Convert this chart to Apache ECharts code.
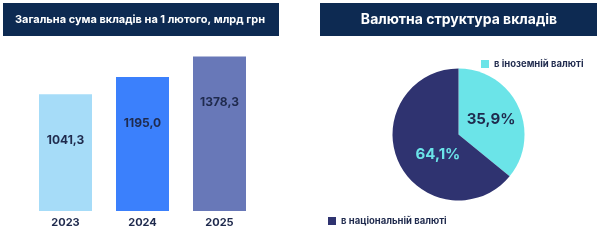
<!DOCTYPE html>
<html><head><meta charset="utf-8">
<script src="https://cdn.jsdelivr.net/npm/echarts@6/dist/echarts.min.js"></script>
<style>html,body{margin:0;padding:0;background:#fff}#c{width:600px;height:244px}</style>
</head><body><div id="c"></div>
<script>
const barTitle = 'Загальна сума вкладів на 1 лютого, млрд грн';
const pieTitle = 'Валютна структура вкладів';
const years = ['2023', '2024', '2025'];
const deposits = [1041.3, 1195.0, 1378.3];
const barColors = ['#a6dcf8', '#3b80fc', '#6878b8'];
const pieNames = ['в іноземній валюті', 'в національній валюті'];
const pieValues = [35.9, 64.1];
const pieColors = ['#6be4e8', '#2f3370'];
const pieLabelColors = ['#1f2a4d', '#6be4e8'];

const FONT = 'Inter';
const NAVY = '#1f2a4d';
const chart = echarts.init(document.getElementById('c'), null, {renderer: 'canvas'});
const fmt = v => v.toFixed(1).replace('.', ',');

chart.setOption({
  animation: false,
  textStyle: {fontFamily: FONT},
  graphic: [
    {type: 'rect', shape: {x: 3, y: 3, width: 276, height: 33}, style: {fill: '#0d2a52'}},
    {type: 'text', x: 140, y: 19.5, style: {text: barTitle, fill: '#fff', font: 'bold 11px ' + FONT, textAlign: 'center', textVerticalAlign: 'middle'}},
    {type: 'rect', shape: {x: 320, y: 3, width: 277, height: 33}, style: {fill: '#0d2a52'}},
    {type: 'text', x: 459, y: 20, style: {text: pieTitle, fill: '#fff', font: 'bold 14px ' + FONT, textAlign: 'center', textVerticalAlign: 'middle'}}
  ],
  grid: {left: 27, width: 231, top: 54, bottom: 33, containLabel: false},
  xAxis: {
    type: 'category', data: years,
    axisLine: {show: false}, axisTick: {show: false},
    axisLabel: {color: NAVY, fontWeight: 'bold', fontSize: 11, fontFamily: FONT, margin: 6}
  },
  yAxis: {type: 'value', min: 0, max: 1400, show: false, splitLine: {show: false}},
  legend: [
    {data: [pieNames[0]], left: 476, top: 54, itemWidth: 8, itemHeight: 8, itemGap: 6, icon: 'rect',
     textStyle: {color: NAVY, fontWeight: 'bold', fontSize: 9.5, fontFamily: FONT}},
    {data: [pieNames[1]], left: 323, top: 211, itemWidth: 8, itemHeight: 8, itemGap: 6, icon: 'rect',
     textStyle: {color: NAVY, fontWeight: 'bold', fontSize: 9.5, fontFamily: FONT}}
  ],
  series: [
    {
      type: 'bar', barWidth: 53,
      data: deposits.map((v, i) => ({value: v, itemStyle: {color: barColors[i]}})),
      label: {show: true, position: 'insideTop', distance: 40, formatter: p => fmt(p.value),
              color: NAVY, fontWeight: 'bold', fontSize: 12, fontFamily: FONT}
    },
    {
      type: 'pie', center: [458.5, 134.5], radius: 66, startAngle: 90, clockwise: true,
      data: pieNames.map((n, i) => ({name: n, value: pieValues[i], itemStyle: {color: pieColors[i]},
        label: {color: pieLabelColors[i], offset: i === 1 ? [12, 5] : [0, 0]}})),
      label: {show: true, position: 'inside', formatter: p => fmt(p.value) + '%',
              fontWeight: 'bold', fontSize: 15, fontFamily: FONT},
      labelLine: {show: false}
    }
  ]
});
</script></body></html>
